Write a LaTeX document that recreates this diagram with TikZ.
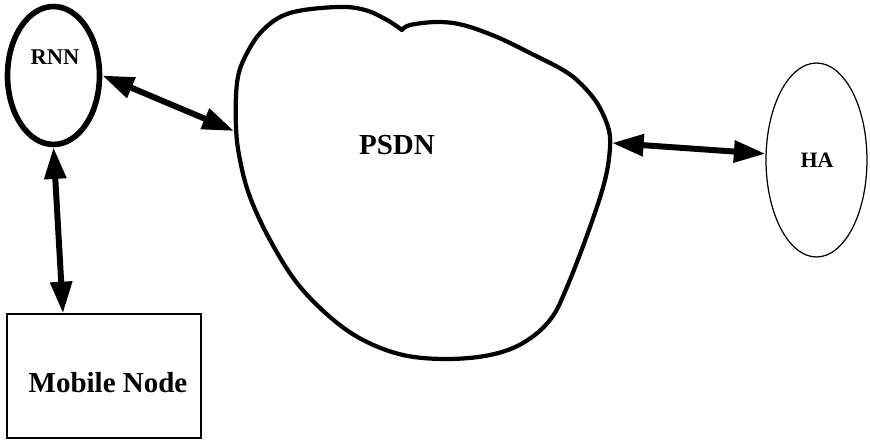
\documentclass[tikz,border=0pt]{standalone}
\usepackage{fontspec}
\setmainfont{Liberation Serif}
\usetikzlibrary{positioning,calc,shapes.geometric,arrows.meta}
\tikzset{
    % Stile per i nodi della rete
    relaynode/.style={draw, ellipse, line width=3.2pt, inner sep=0pt,
                      minimum width=1.84cm, minimum height=2.76cm},
    homenode/.style={draw, ellipse, line width=0.7pt, inner sep=0pt,
                     minimum width=2.02cm, minimum height=3.88cm},
    hostbox/.style={draw, rectangle, line width=0.8pt, inner sep=0pt,
                    minimum width=3.88cm, minimum height=2.48cm},
    cloudline/.style={line width=2.4pt, line join=round, line cap=round},
    % Collegamenti bidirezionali
    link/.style={line width=3.4pt,
                 {Triangle[length=18pt,width=12pt]}-{Triangle[length=18pt,width=12pt]}},
    smalllbl/.style={inner sep=0pt, font=\bfseries\fontsize{12.8}{15}\selectfont},
    biglbl/.style={inner sep=0pt, font=\bfseries\fontsize{16.5}{19}\selectfont}
}
\begin{document}
\begin{tikzpicture}[x=0.02cm, y=-0.02cm]
    \useasboundingbox (0,0) rectangle (870,442);

    % Nodes
    \node[relaynode] (rnn) at (53.5,75.5) {};
    \node[homenode] (ha) at (816.5,160) {};
    \node[hostbox] (mobile) at (104,376) {};

    % PSDN cloud
    \draw[cloudline] plot[smooth, tension=0.6] coordinates {
        (402,30) (387,20) (365,10) (337,7) (290,13) (263,30) (245,57)
        (237,83) (236,127) (240,160) (250,197) (270,240) (297,283)
        (330,317) (363,340) (403,355) (447,359) (490,355) (523,343)
        (550,320) (567,287) (590,227) (605,180) (610,147) (608,127)
        (597,103) (580,83) (563,70) (530,53) (497,37) (463,25)
        (437,22) (410,25) (402,30)};
    \coordinate (psdnW) at (234,131);
    \coordinate (psdnE) at (612,143);

    % Labels
    \node[smalllbl] (rnntxt) at (55,57) {RNN};
    \node[biglbl] (psdntxt) at (397,145) {PSDN};
    \node[smalllbl, font=\bfseries\fontsize{12.5}{15}\selectfont] (hatxt) at (817,160) {HA};
    \node[biglbl] (mobiletxt) at (108,383) {Mobile Node};

    % Links
    \draw[link] (rnn.east) -- (psdnW);
    \draw[link] (rnn.south) -- ($(mobile.north west)!0.29!(mobile.north east)$);
    \draw[link] (psdnE) -- (ha.173);
\end{tikzpicture}
\end{document}
